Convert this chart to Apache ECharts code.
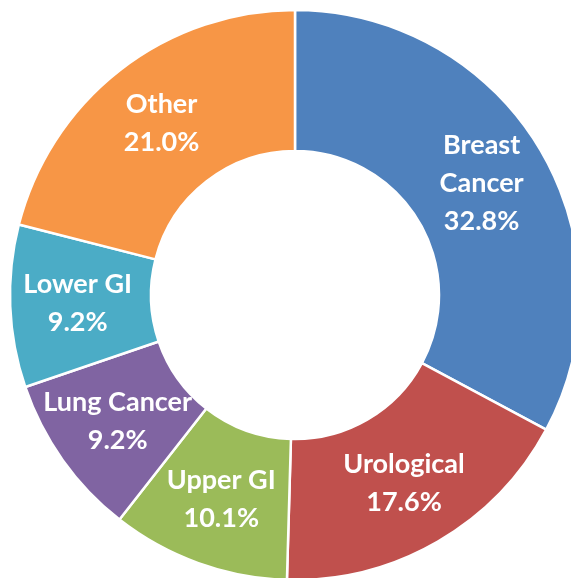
<!DOCTYPE html>
<html>
<head>
<meta charset="utf-8">
<script src="https://cdn.jsdelivr.net/npm/echarts@6/dist/echarts.min.js"></script>
<style>
  html, body { margin: 0; padding: 0; background: #fff; }
  #chart { width: 571px; height: 578px; }
</style>
</head>
<body>
<div id="chart"></div>
<script>
// categories and shares (%)
var categories = ['Breast\nCancer', 'Urological', 'Upper GI', 'Lung Cancer', 'Lower GI', 'Other']
var shares = [32.8, 17.6, 10.1, 9.2, 9.2, 21.0]
var colors = ['#4F81BD', '#C0504D', '#9BBB59', '#8064A2', '#4BACC6', '#F79646']

var chart = echarts.init(document.getElementById('chart'))
var option = {
  animation: false,
  color: colors,
  series: [{
    type: 'pie',
    center: [295, 295],
    radius: [144, 285],
    startAngle: 90,
    clockwise: true,
    avoidLabelOverlap: false,
    itemStyle: { borderColor: '#fff', borderWidth: 2.5 },
    label: {
      show: true,
      position: 'inside',
      color: '#fff',
      fontFamily: 'Lato',
      fontWeight: 'bold',
      fontSize: 27,
      lineHeight: 38,
      formatter: function (p) {
        return p.name + '\n' + p.value.toFixed(1) + '%'
      }
    },
    labelLine: { show: false },
    data: categories.map(function (c, i) {
      return { name: c, value: shares[i] }
    })
  }]
}
chart.setOption(option)
</script>
</body>
</html>
